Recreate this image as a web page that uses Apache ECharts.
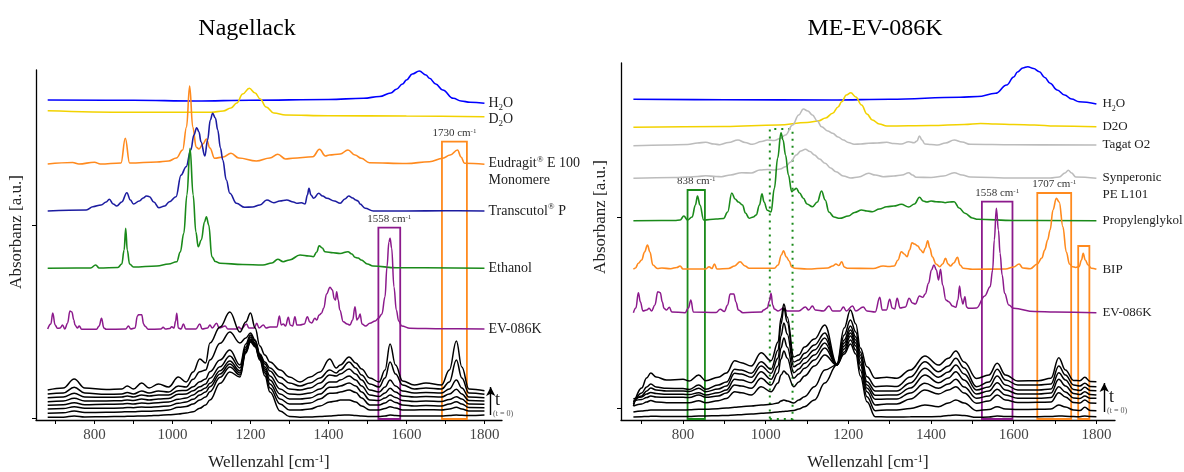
<!DOCTYPE html>
<html><head><meta charset="utf-8">
<script src="https://cdn.jsdelivr.net/npm/echarts@6/dist/echarts.min.js"></script>
<style>html,body{margin:0;padding:0;background:#fff}#c{width:1184px;height:472px}</style>
</head><body><div id="c"></div>
<script>
// ---------- axis ticks ----------
const X_TICKS = [700, 800, 900, 1000, 1100, 1200, 1300, 1400, 1500, 1600, 1700, 1800];
const X_LABELS = [800, 1000, 1200, 1400, 1600, 1800];

// ---------- LEFT PANEL (Nagellack) ----------
const L_H2O = [[680,320],[900,319.7],[1060,319],[1200,319.8],[1400,320.5],[1490,321.8],[1531,323.5],[1560,327],[1574,330.7],[1590,336],[1600,340],[1615,346],[1633,349],[1650,345],[1659,341.7],[1675,336],[1693,330],[1720,321.7],[1740,319],[1763,317.7],[1800,316.7]];
const L_D2O = [[680,309.3],[890,307.8],[1100,307.7],[1130,309],[1150,312],[1165,317],[1180,326],[1197,331.7],[1212,327],[1225,321],[1240,313],[1260,307],[1290,305],[1400,304.3],[1600,304],[1800,303.3]];
const L_EUDRAGIT = [[680,256],[744,257.5],[760,256],[800,257.7],[815,256],[868,257],[879,281.7],[890,257],[960,258],[990,259],[1010,262],[1026,270],[1036,293],[1044,334],[1052,293],[1061,272.7],[1068,271],[1078,276],[1087,281],[1096,272],[1108,261.7],[1130,263],[1150,266.7],[1170,262],[1215,259],[1250,262],[1270,265.7],[1290,261],[1308,261.7],[1360,263.3],[1377,270.7],[1392,264],[1402,265],[1430,266],[1450,270],[1468,265],[1484,261.7],[1505,257.3],[1600,256.5],[1659,258.3],[1693,261.7],[1712,265],[1731,270],[1740,263],[1749,256.7],[1800,255.7]];
const L_TRANSCUTOL = [[680,209],[779,210],[796,213.3],[817,215],[830,218],[838,220.7],[848,216],[857,214],[870,218],[883,227.3],[892,220],[900,216],[915,219],[925,222],[933,224],[941,223.3],[952,218],[965,212.3],[980,214],[992,218.3],[1009,223.3],[1022,245],[1035,253.3],[1047,270],[1055,285],[1062,292.3],[1068,288],[1073,278.3],[1083,264],[1090,280],[1097,300],[1103,306.7],[1110,302],[1116,290],[1123,272],[1129,260],[1138,240],[1147,226.7],[1164,216.7],[1185,212.7],[1205,213],[1224,215],[1242,220],[1260,217.3],[1275,219],[1293,220],[1310,218],[1319,216.7],[1331,217.3],[1340,216],[1346,225],[1350,231.7],[1355,225],[1362,221.7],[1375,226.7],[1385,224],[1396,221.7],[1415,219],[1430,216.7],[1442,221],[1452,224],[1462,222],[1470,220],[1476,219],[1481,216],[1494,211.7],[1515,209],[1600,209],[1700,209.3],[1800,209]];
const L_ETHANOL = [[680,151.7],[790,152],[803,155],[812,152],[860,152.5],[870,156],[876,170],[880,191.7],[884,170],[890,156],[900,153],[960,154],[990,156],[1011,158.3],[1020,168],[1029,186.7],[1037,225],[1045,271.7],[1053,225],[1060,188],[1066,173.3],[1074,180],[1082,198],[1087,203.3],[1093,195],[1101,163.3],[1110,158.5],[1122,156.7],[1180,155.5],[1232,155],[1255,157],[1270,160.7],[1284,158.3],[1300,160],[1327,165],[1350,164],[1361,163.3],[1370,168],[1376,174.3],[1384,172],[1391,168.3],[1412,167.3],[1430,166.5],[1450,168.3],[1460,166],[1468,162.7],[1476,162],[1484,160],[1500,156],[1514,154],[1574,152.3],[1800,151.7]];
const L_EV086K = [[680,91],[688,96],[693,107],[699,95],[705,91.7],[712,92],[718,95],[724,91],[731,97],[737,109],[742,108],[747,100],[750,95],[756,92],[761,94],[767,90.7],[805,90.7],[812,94],[818,101.7],[824,92],[830,90.7],[880,91],[887,94],[893,91],[904,92],[910,104],[913,105.3],[921,105.3],[926,96],[929,94],[938,90.7],[970,91],[976,92.7],[982,91],[993,91.5],[998,93.3],[1004,92],[1008,99],[1011,106.7],[1015,92],[1022,91],[1028,96],[1034,91],[1060,91],[1070,96],[1076,91],[1090,92],[1096,95],[1102,92],[1113,96.7],[1120,92],[1135,94],[1142,91],[1165,91],[1170,93],[1176,91],[1190,96],[1196,92],[1210,92],[1216,96.7],[1222,92],[1233,95],[1240,92],[1250,93],[1268,93],[1274,104],[1279,95],[1284,96],[1290,94],[1297,102.7],[1302,95],[1308,94],[1314,103.3],[1319,95],[1327,95],[1338,96],[1346,103.3],[1352,98],[1357,97],[1365,101.7],[1370,100],[1376,105],[1382,106.7],[1388,112],[1395,126],[1404,132.7],[1410,130],[1415,121],[1418,120],[1421,128.3],[1425,120],[1429,110],[1438,98.3],[1448,96],[1455,95],[1462,100],[1468,113.3],[1473,100],[1477,102],[1481,106],[1486,96],[1495,94],[1506,96.7],[1520,99],[1528,101.7],[1537,106],[1545,123.3],[1550,153],[1555,178],[1558,181.7],[1562,172],[1568,133],[1574,110],[1580,99],[1588,94],[1609,91.7],[1650,91.5],[1700,91.2],[1800,91]];

// time series (black), top = latest, bottom = t = 0
const L_WN = [680,720,748,775,830,870,884,900,921,940,964,990,1015,1035,1053,1070,1085,1096,1122,1147,1173,1188,1200,1212,1224,1237,1250,1276,1300,1327,1353,1378,1403,1420,1430,1453,1470,1485,1506,1530,1545,1558,1572,1590,1620,1650,1690,1710,1728,1742,1760,1800];
const L_T1 = [30,32,41,32,30.5,31,34,31,37,32,36,33,43,38,48,61,57,77,93,108,88,98,107,92,74,65,58,50,43,38,43,48,61,52,55,63,57,51,42,38,50,76,55,39,35,37,35,50,79,53,31,29.3];
const L_T2 = [26,27,32.7,27,25.7,26,27.5,26,29,27,29,28,34,33,40.7,48.3,50,60,76.7,88,77,82,87,80,66,58,52,43,37,34,37,42,50,47,50,58,52,45,36,33,42,58,46,35,31,32,31,38,60,42,27,25.7];
const L_T3 = [22.3,23,26.7,23,22.7,23,24,23,25,24,25,25,29.3,29.5,33.3,38.3,41,48.3,60,70,55,76,85,79,65,56,49,37,31,30,32,37,45,44,46,51,46,40,30,28,33,40,34,29,27,27.5,27,31,40,32,23,22.3];
const L_T4 = [18.3,19,21.7,19,19,19.3,20,19.5,21,20,21,21.5,25.7,26,29.3,33.3,36,41.7,53.3,64,52,73,83,77,64,53,44,31,26,25.5,27,31,38,38,40,44,40,34,25,23.5,27,31.7,28,24,23,23.5,23,26,30.7,26,19.5,19];
const L_T5 = [14.7,15.3,17.3,15.3,15.7,16,16.5,16,17,16.5,17.3,18,20.7,22,25,29.3,32,36.7,49.3,59,49,71,81,76,63,51,40,26,21,21,22,26,32.7,33,34,37,34,28,20,19.5,22,25,22.5,19.5,18.5,19,18.5,20.5,23.3,21,16,15.7];
const L_T6 = [11,11.5,13.3,11.7,11.7,12,12.5,12.3,13,12.7,13.3,14,16.7,18,20.7,25,28,33.3,46,56,47,69,80,75,62,49,36,21,16,16,17,21,26.7,27,28,30,27.5,22,15,15,17,20,17.5,15,14,14.5,14,16,18.3,16,12.5,12.3];
const L_T7 = [6.7,7.2,9,7.5,7.7,8,8.3,8.2,8.7,8.7,9.2,10,12.7,13.5,16,20,23,28.3,42.7,53,45,68,79,74,61,47,32,16,10,10,11,14,18,19,20,20,18,14,10,10,11.5,13.3,12,10,10,10.3,10,11,12.7,11,9,9];
const L_T8 = [2.7,2.8,4,3,3.3,3.5,3.7,3.8,4,4.2,4.6,5.2,6,7,8.3,11.7,15,20,36.7,48,43,67,78,73,60,44,28,9,3.5,2.8,3,3.5,4,4.5,4.8,5,4.5,4,3.5,3.5,4,5,4.5,4,4,4,4,4.5,5,4.7,4.5,5];

// marked bands (wavenumber from, to, box height in a.u., peak label)
const L_BANDS = [{name:'EV', from:1528, to:1584, top:192.3, peak:'1558'}, {name:'EU', from:1691, to:1755, top:278.3, peak:'1730'}];

// ---------- RIGHT PANEL (ME-EV-086K) ----------
const R_H2O = [[680,320.7],[900,320.3],[1160,320],[1300,320.8],[1470,322.7],[1513,323.5],[1556,326.7],[1583,335],[1600,343],[1609,348],[1622,352],[1634,353.3],[1648,351.5],[1662,348.3],[1675,342.5],[1688,336.7],[1705,330],[1723,325],[1740,321],[1758,318.3],[1800,316]];
const R_D2O = [[680,292.7],[900,293.5],[1030,295],[1100,297.5],[1127,299],[1145,302],[1162,306.7],[1175,313],[1184,318.3],[1195,325],[1206,327.3],[1218,323],[1232,315],[1245,306],[1258,300],[1275,296],[1293,294],[1400,294.5],[1480,295.5],[1520,296.5],[1556,296],[1600,295.5],[1650,295],[1700,294],[1800,293.3]];
const R_TAGAT = [[680,274.3],[760,275],[811,275.5],[835,277],[855,277.7],[875,276],[889,275.3],[910,277.5],[933,280],[950,277.5],[968,275.7],[990,278.5],[1004,280],[1021,279.5],[1035,281.5],[1048,285],[1065,295],[1080,305],[1091,311],[1102,309],[1113,305],[1125,299],[1135,293.3],[1150,289],[1162,286.7],[1175,283],[1188,280],[1200,277.5],[1214,275.7],[1230,276],[1249,276.7],[1270,277],[1293,277.7],[1310,276.5],[1328,276],[1346,278.3],[1359,277.3],[1366,279],[1372,284],[1378,280],[1385,276],[1400,275.5],[1416,275],[1435,277],[1456,280],[1475,278],[1495,275.7],[1600,275.2],[1800,275]];
const R_SYNPERONIC = [[680,241.7],[780,242.5],[811,243],[835,243.5],[855,244.3],[880,243.5],[893,243.3],[915,245],[942,247.3],[965,247],[986,250],[1005,250.5],[1021,250],[1035,251],[1048,253.3],[1060,258],[1074,265],[1085,269],[1096,270.7],[1107,268.5],[1118,265],[1130,261],[1144,256.7],[1157,252],[1170,248.3],[1188,244],[1206,242],[1225,243],[1249,246.7],[1265,245],[1284,243.3],[1310,244],[1330,245],[1346,247.3],[1355,245],[1364,242.7],[1400,242.5],[1430,244],[1456,247.3],[1475,245],[1495,243],[1600,242],[1688,242],[1710,243],[1724,247],[1732,249.7],[1740,247],[1750,243],[1800,241.7]];
const R_PROPYLENGLYKOL = [[680,199.3],[780,199.5],[793,200],[802,204],[811,200],[822,203],[830,215],[835,224],[841,215],[850,200],[880,201],[898,201.5],[908,208],[918,227],[926,221],[934,218],[944,215],[951,207],[960,201.7],[970,203],[977,205],[985,215],[991,226.3],[996,218],[1004,209.7],[1013,208],[1021,231.7],[1029,262],[1037,287.3],[1042,280],[1048,265],[1055,245],[1063,228.3],[1068,230],[1074,231.7],[1082,227],[1091,221.7],[1100,216],[1113,213.3],[1125,218],[1135,229],[1144,220],[1153,208],[1165,203],[1179,201.7],[1200,204],[1215,207.5],[1232,210],[1245,209],[1258,208.3],[1275,211],[1293,213.3],[1310,214],[1328,215.7],[1346,213],[1360,216],[1372,222.7],[1381,219],[1390,218],[1400,219],[1412,218.3],[1425,218],[1434,217.3],[1445,218],[1456,218.3],[1468,212],[1482,206.7],[1500,202],[1513,200.7],[1600,199.5],[1800,199.3]];
const R_BIP = [[680,150.7],[685,152],[692,156.7],[700,160],[707,168],[714,175],[720,168],[727,155],[738,151.5],[749,152],[770,151.3],[785,152.5],[793,154],[800,151],[855,151],[863,153.3],[870,151.5],[876,156],[882,151],[910,151.5],[925,154],[938,158.3],[950,154],[960,151.7],[1021,151.7],[1030,155],[1038,165],[1043,169.3],[1050,163],[1057,159],[1063,153],[1070,151.7],[1100,151],[1150,152],[1162,154],[1170,156],[1177,154.5],[1184,158.3],[1190,153],[1197,151.7],[1260,151.5],[1284,154],[1298,153.5],[1311,154],[1320,160],[1328,168.3],[1335,166],[1342,163.3],[1348,170],[1354,177.3],[1360,176],[1368,174],[1375,170],[1381,167.3],[1386,172],[1392,179.3],[1397,172],[1403,163.3],[1412,156],[1421,153.3],[1428,156],[1435,161.7],[1441,156],[1447,154],[1455,157],[1464,162.7],[1470,155],[1478,151.7],[1500,150.7],[1580,151],[1600,153],[1613,156],[1622,152],[1640,151.3],[1657,156],[1668,162],[1675,170],[1682,180],[1688,190],[1695,210],[1703,221.7],[1710,218],[1719,193.3],[1727,168.3],[1735,156],[1742,153.3],[1750,152.5],[1758,153.3],[1764,160],[1768,166.7],[1773,160],[1780,155],[1788,151.7],[1800,150.7]];
const R_EV086K = [[680,107.3],[686,112],[692,127.3],[697,118],[703,109],[712,110],[718,111.7],[724,109],[732,115],[739,128.3],[745,127.3],[750,118],[754,111.7],[760,110],[767,112.7],[773,108],[805,107.3],[813,112],[819,120],[825,108],[880,107.5],[890,110.7],[900,108.5],[908,115],[914,126],[923,126],[928,118],[934,110],[945,107.3],[990,108],[995,110],[1004,112],[1009,119],[1013,126.7],[1017,115],[1021,111],[1030,109],[1043,112],[1052,109],[1080,109],[1096,113],[1104,110],[1113,114],[1120,110],[1140,109],[1153,114],[1162,109],[1180,109],[1188,113],[1195,109],[1210,114],[1218,109],[1236,113],[1245,109],[1265,108],[1276,122.7],[1282,110],[1292,110],[1300,120.7],[1306,112],[1312,111],[1318,121.7],[1325,112],[1338,113],[1347,121.7],[1355,117],[1362,116],[1372,124],[1380,122.7],[1386,126],[1394,136.7],[1401,150],[1407,155],[1413,150],[1418,140],[1423,150.7],[1428,135],[1436,120],[1443,118.3],[1452,114],[1460,112.7],[1465,120],[1469,134],[1473,122],[1477,116],[1482,123.3],[1486,113],[1491,111.7],[1510,112],[1530,124],[1543,133.3],[1549,150],[1553,180],[1558,211.7],[1563,190],[1567,166.7],[1572,145],[1578,126.7],[1588,115],[1600,111.7],[1650,108.5],[1700,108],[1800,107.3]];

const R_WN = [680,700,712,722,735,760,800,815,838,855,885,905,925,941,965,989,1013,1030,1037,1044,1052,1068,1080,1094,1118,1143,1172,1190,1205,1218,1229,1245,1265,1293,1317,1350,1385,1418,1442,1460,1480,1510,1540,1560,1580,1610,1660,1690,1709,1725,1745,1760,1772,1785,1800];
const R_T1 = [14,32,42,47,43,40,40.7,39,45,39.3,42.7,47,59.3,57.3,54,67.3,59.3,78,102,116,103,63,65,73,81,95,56,92,110,96,72,53.3,41.7,42.7,41.7,50,64,55,61.7,69,58,41.5,45,56.7,45,39,39.3,41.7,62.3,50,39.5,39.3,42.7,38.5,38.3];
const R_T2 = [16,27,33,36,33,31.7,31.5,30.5,35,30.7,35,38,50.7,50,46.7,58.3,50.7,70,96,111.7,98,58,60,66.7,75,87,55,85,100,88,68,43.3,33.3,34,33.5,43,58.3,48.3,54,61.7,52,33.3,38,50.7,40,35,35,36,54,45,35,34,36.7,33.5,33.3];
const R_T3 = [18,24,29,32,30,29,29,28.5,31.7,28.3,31,34,46.7,46,42.7,54,46.7,62,84,97,86,53.3,56,61.7,70,82,55,80,94,83,65,38.3,29,29,29,37,51.7,42.7,48,55,46,30,33,44,35,30,30,31,47.3,40,30.5,29.5,32.7,29.5,29.3];
const R_T4 = [21,23,26,27.5,26.5,25.7,25.7,25.5,27.3,25,27.3,30,40.7,40,37.3,48.3,40.7,54,72,82,73,47.3,51,56.7,65,77,55,77,90,80,62,35,24.7,25,25,32,45,37.3,42,48.3,40,26,29,37.3,30,26,26,27,40.7,34,26.5,25.5,28.3,25.5,25];
const R_T5 = [19,20.5,22.5,24,23,22.7,22.7,22.5,25,22.7,24,27,35,34,31.7,41.7,35,47,61,69,62,41.7,46,51.7,60,72,55,74,87,77,58,31.7,20.7,21,21,27,36.7,31.7,36,40.7,33,21.7,24,30.7,25,21.7,21.7,22.5,33.3,28,22,21.5,24,21.7,21.7];
const R_T6 = [14,16,18,19.5,18,17.3,17.3,17.3,19.3,17.3,19.3,21.5,28.3,27.3,25,33.3,28.3,37,45,49,46,33.3,38,44,54,65,55,71,84,74,55,28.3,15,16,16,21,30,26,30,33.3,27,16.7,19,25,20,17.5,17.7,18,27.3,23,17.5,17,20,17,16.7];
const R_T7 = [8,9,9.5,10,10,10,10,10.2,10.7,10.7,11.3,12,12.7,13.3,14,15,15.7,17,19,20,19,17,20,23.3,33.3,50,55,68,80,70,50,23.3,9.3,10,10,11.5,15,13.3,17,20,17,9.3,10.5,13.3,11,10.5,10.7,11,15,13,10,9.5,12.7,9.5,9.3];
const R_T8 = [3,3.3,3.5,3.7,3.7,3.5,3.5,3.6,4,4,4.3,4.6,5,5.3,6,6.7,7.3,8,8.3,8.5,8.8,9.5,11,13.3,20,37,55,66,76,66,44,18.3,3.3,3,3,3.2,3.3,3.4,4.5,5,4.5,2.7,3,4,3.5,3.3,3.3,3.5,4,3.8,3.4,3.3,4,3.4,3.3];

const R_BANDS = [{name:'PG', from:811, to:853, top:230, peak:'838'}, {name:'EV', from:1523, to:1597, top:218.3, peak:'1558'}, {name:'BIP', from:1657, to:1739, top:227, peak:'1707'}, {name:'BIP', from:1756, to:1783, top:174, peak:''}, {name:'PGD', from:1010, to:1065, top:291, peak:''}];

// ---------- styles ----------
const FONT = 'Liberation Serif';
const C = {h2o:'#0000ff', d2o:'#f2d200', eu:'#ff8a1e', tr:'#1c1ca0', et:'#1a8a1a', ev:'#8c1a8c', gray:'#bcbcbc', blk:'#000'};
const BAND_COLOR = {EV:C.ev, EU:C.eu, PG:C.et, BIP:C.eu, PGD:C.et};
function rich(fs){
  return {
    s:{fontSize:Math.round(fs*0.65), lineHeight:6, verticalAlign:'bottom', fontFamily:FONT, color:'#222'},
    p:{fontSize:Math.round(fs*0.65), lineHeight:6, verticalAlign:'top', fontFamily:FONT, color:'#222'}
  };
}

function zip(wn, vals){ return wn.map((w,i)=>[w, vals[i]]); }

function spec(grid, data, color, label, lw, multi, dy){
  const s = {type:'line', xAxisIndex:grid, yAxisIndex:grid, data:data, showSymbol:false, symbol:'none',
    smooth:0.4, smoothMonotone:'x', silent:true,
    lineStyle:{color:color, width:lw||1.6}, itemStyle:{color:color}};
  if(label){
    const fs = grid===0 ? 14 : 13;
    s.endLabel = {show:true, formatter:label, distance:grid===0?4:6, color:'#222', fontFamily:FONT, fontSize:fs,
      lineHeight:17, rich:rich(fs), offset:[0, multi?8:(dy||0)]};
  }
  return s;
}

function bands(list){
  return list.map(b=>{
    const col = BAND_COLOR[b.name];
    return [{xAxis:b.from, yAxis:1,
      itemStyle:{color:'rgba(0,0,0,0)', borderColor:col, borderWidth:b.name==='PGD'?2:1.8, borderType:b.name==='PGD'?[2,5]:'solid'},
      label:{show:!!b.peak, position:'top', distance:2, formatter:b.peak? b.peak+' cm{p|-1}' : '',
        color:'#333', fontFamily:FONT, fontSize:11, rich:{p:{fontSize:7, lineHeight:5, verticalAlign:'top', fontFamily:FONT, color:'#333'}}}},
      {xAxis:b.to, yAxis:b.top}];
  });
}

const series = [];
// left colored
const sL_H2O = spec(0, L_H2O, C.h2o, 'H{s|2}O');
sL_H2O.markArea = {silent:true, data:bands(L_BANDS)};
series.push(sL_H2O);
series.push(spec(0, L_D2O, C.d2o, 'D{s|2}O', 1.6, false, 3));
series.push(spec(0, L_EUDRAGIT, C.eu, 'Eudragit{p|®} E 100\nMonomere', 1.6, true));
series.push(spec(0, L_TRANSCUTOL, C.tr, 'Transcutol{p|®} P'));
series.push(spec(0, L_ETHANOL, C.et, 'Ethanol'));
series.push(spec(0, L_EV086K, C.ev, 'EV-086K', 1.5));
[L_T1,L_T2,L_T3,L_T4,L_T5,L_T6,L_T7,L_T8].forEach((t,i)=>{
  const s = spec(0, zip(L_WN, t), C.blk, null, 1.5);
  if(i===7){ s.markLine = {silent:true, symbol:['none','arrow'], symbolSize:[7,9], lineStyle:{color:'#000', width:1.4, type:'solid'}, label:{show:false},
      data:[[{coord:[1816, 5]}, {coord:[1816, 33]}]]}; }
  series.push(s);
});
// right colored
const sR_H2O = spec(1, R_H2O, C.h2o, 'H{s|2}O');
sR_H2O.markArea = {silent:true, data:bands(R_BANDS)};
series.push(sR_H2O);
series.push(spec(1, R_D2O, C.d2o, 'D2O'));
series.push(spec(1, R_TAGAT, C.gray, 'Tagat O2'));
series.push(spec(1, R_SYNPERONIC, C.gray, 'Synperonic\nPE L101', 1.6, true));
series.push(spec(1, R_PROPYLENGLYKOL, C.et, 'Propylenglykol'));
series.push(spec(1, R_BIP, C.eu, 'BIP'));
series.push(spec(1, R_EV086K, C.ev, 'EV-086K', 1.5));
[R_T1,R_T2,R_T3,R_T4,R_T5,R_T6,R_T7,R_T8].forEach((t,i)=>{
  const s = spec(1, zip(R_WN, t), C.blk, null, 1.5);
  if(i===7){ s.markLine = {silent:true, symbol:['none','arrow'], symbolSize:[7,9], lineStyle:{color:'#000', width:1.4, type:'solid'}, label:{show:false},
      data:[[{coord:[1819, 8]}, {coord:[1819, 37]}]]}; }
  series.push(s);
});

function xAxis(i){
  return {gridIndex:i, type:'value', min:650, max:1845,
    axisLine:{show:true, onZero:false, lineStyle:{color:'#000', width:1.3}},
    axisTick:{show:true, customValues:X_TICKS, length:4, lineStyle:{color:'#000', width:1}},
    axisLabel:{customValues:X_LABELS, formatter:v=>String(v), margin:8, color:'#444', fontFamily:FONT, fontSize:15},
    splitLine:{show:false},
    name:'Wellenzahl [cm{p|-1}]', nameLocation:'middle', nameGap:34, nameMoveOverlap:false,
    nameTextStyle:{color:'#222', fontFamily:FONT, fontSize:17, rich:{p:{fontSize:11, lineHeight:7, verticalAlign:'top', fontFamily:FONT, color:'#222'}}}
  };
}
function yAxis(i, max, ticks){
  return {gridIndex:i, type:'value', min:0, max:max,
    axisLine:{show:true, onZero:false, lineStyle:{color:'#000', width:1.3}},
    axisTick:{show:true, customValues:ticks, length:4, lineStyle:{color:'#000'}},
    axisLabel:{show:false}, splitLine:{show:false}};
}

const chart = echarts.init(document.getElementById('c'), null, {renderer:'canvas'});
chart.setOption({
  animation:false,
  backgroundColor:'#fff',
  title:[
    {text:'Nagellack', left:242, top:12, textAlign:'center', textStyle:{fontFamily:FONT, fontSize:24, fontWeight:'normal', color:'#000'}},
    {text:'ME-EV-086K', left:870, top:12, textAlign:'center', textStyle:{fontFamily:FONT, fontSize:24, fontWeight:'normal', color:'#000'}}
  ],
  grid:[
    {left:36, top:70, width:466, height:350, outerBoundsMode:'none', containLabel:false},
    {left:621, top:63, width:494, height:357, outerBoundsMode:'none', containLabel:false}
  ],
  xAxis:[xAxis(0), xAxis(1)],
  yAxis:[yAxis(0, 350, [2, 195]), yAxis(1, 357, [12, 203])],
  graphic:[
    {type:'text', x:17, y:232, rotation:Math.PI/2, style:{text:'Absorbanz [a.u.]', fontFamily:FONT, fontSize:17, fill:'#222', align:'center', verticalAlign:'middle'}},
    {type:'text', x:601, y:217, rotation:Math.PI/2, style:{text:'Absorbanz [a.u.]', fontFamily:FONT, fontSize:17, fill:'#222', align:'center', verticalAlign:'middle'}},
    {type:'text', x:495, y:400, style:{text:'t', fontFamily:FONT, fontSize:18, fill:'#222', align:'left', verticalAlign:'middle'}},
    {type:'text', x:493, y:414, style:{text:'(t = 0)', fontFamily:FONT, fontSize:8, fill:'#555', align:'left', verticalAlign:'middle'}},
    {type:'text', x:1109, y:397, style:{text:'t', fontFamily:FONT, fontSize:18, fill:'#222', align:'left', verticalAlign:'middle'}},
    {type:'text', x:1107, y:411, style:{text:'(t = 0)', fontFamily:FONT, fontSize:8, fill:'#555', align:'left', verticalAlign:'middle'}}
  ],
  series:series
});
</script>
</body></html>
